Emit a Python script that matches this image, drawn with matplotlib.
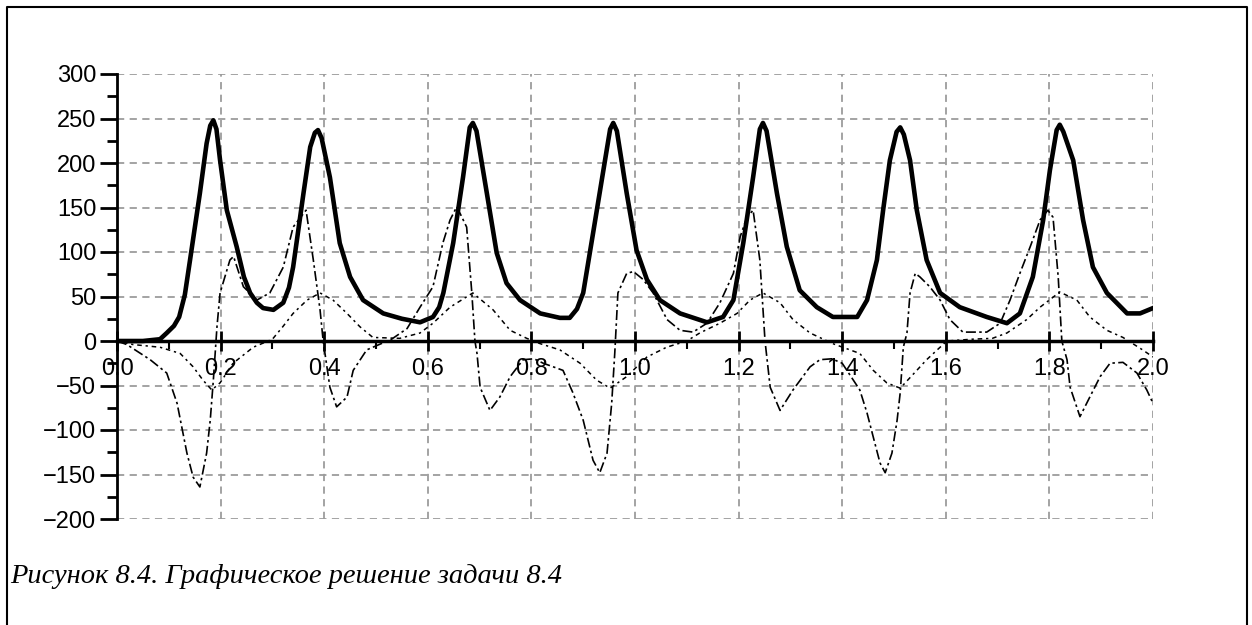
import numpy as np
import matplotlib; matplotlib.use("Agg")
import matplotlib.pyplot as plt
from matplotlib.lines import Line2D
from matplotlib.ticker import MultipleLocator, FormatStrFormatter

# thick solid curve
t_main = [0.0, 0.05, 0.083, 0.096, 0.11, 0.12, 0.131, 0.141, 0.16, 0.173, 0.18, 0.186, 0.192, 0.199,
          0.212, 0.231, 0.245, 0.257, 0.27, 0.282, 0.302, 0.321, 0.332, 0.34, 0.36, 0.373, 0.382,
          0.388, 0.395, 0.411, 0.43, 0.45, 0.475, 0.514, 0.55, 0.585, 0.61, 0.622, 0.63, 0.649,
          0.668, 0.681, 0.687, 0.694, 0.714, 0.733, 0.752, 0.778, 0.817, 0.855, 0.874, 0.888, 0.9,
          0.919, 0.939, 0.952, 0.958, 0.965, 0.984, 1.003, 1.023, 1.048, 1.087, 1.139, 1.17, 1.19,
          1.209, 1.228, 1.241, 1.247, 1.254, 1.274, 1.293, 1.318, 1.351, 1.382, 1.429, 1.448,
          1.467, 1.479, 1.492, 1.505, 1.512, 1.519, 1.531, 1.544, 1.563, 1.589, 1.627, 1.679,
          1.718, 1.743, 1.768, 1.788, 1.801, 1.814, 1.82, 1.827, 1.846, 1.865, 1.884, 1.911,
          1.95, 1.975, 2.0]
y_main = [0, 0, 2, 9, 17, 27, 52, 91, 166, 222, 242, 248, 238, 203,
          147, 106, 72, 54, 43, 37, 35, 43, 60, 83, 166, 218, 234,
          237, 228, 184, 110, 72, 46, 31, 25, 21, 27, 38, 54, 110,
          184, 240, 245, 236, 166, 99, 65, 46, 31, 26, 26, 36, 54,
          121, 192, 238, 245, 236, 166, 102, 69, 46, 31, 21, 27, 46,
          110, 184, 238, 245, 236, 166, 106, 57, 38, 27, 27, 46,
          91, 147, 203, 235, 240, 232, 203, 147, 91, 54, 38, 27,
          20, 31, 72, 136, 192, 237, 243, 235, 203, 136, 83, 54,
          31, 31, 37]

# dashed curve (large swings)
t_dash = [0.0, 0.019, 0.064, 0.096, 0.116, 0.135, 0.147, 0.16, 0.173, 0.18, 0.186, 0.193, 0.199,
          0.218, 0.225, 0.244, 0.27, 0.295, 0.321, 0.34, 0.365, 0.379, 0.392, 0.398, 0.411,
          0.424, 0.444, 0.456, 0.482, 0.514, 0.53, 0.56, 0.585, 0.61, 0.629, 0.643, 0.656,
          0.675, 0.685, 0.691, 0.695, 0.701, 0.72, 0.739, 0.759, 0.784, 0.805, 0.823, 0.861,
          0.88, 0.9, 0.919, 0.932, 0.946, 0.955, 0.961, 0.967, 0.984, 0.997, 1.016, 1.035,
          1.062, 1.087, 1.112, 1.139, 1.164, 1.19, 1.203, 1.216, 1.228, 1.241, 1.251, 1.261,
          1.28, 1.305, 1.338, 1.357, 1.38, 1.40, 1.434, 1.448, 1.46, 1.473, 1.483, 1.496,
          1.506, 1.512, 1.518, 1.525, 1.531, 1.541, 1.55, 1.569, 1.589, 1.608, 1.633, 1.679,
          1.705, 1.724, 1.743, 1.763, 1.782, 1.797, 1.807, 1.817, 1.824, 1.834, 1.84, 1.859,
          1.878, 1.898, 1.917, 1.942, 1.969, 1.988, 2.0]
y_dash = [0, -4, -21, -36, -70, -126, -153, -164, -126, -89, -44, 16, 54,
          91, 95, 61, 46, 54, 83, 128, 147, 91, 35, 0, -52,
          -74, -63, -33, -10, -2, 2, 14, 38, 61, 110, 136, 151,
          128, 54, 0, -14, -52, -78, -63, -40, -21, -20, -25, -33,
          -58, -89, -134, -148, -126, -70, -13, 54, 76, 78, 69, 54,
          24, 12, 10, 20, 43, 76, 117, 139, 147, 91, 0, -52,
          -78, -55, -29, -21, -20, -25, -55, -81, -108, -137, -148, -126,
          -89, -58, -7, 9, 54, 76, 72, 61, 46, 24, 10, 10,
          20, 46, 76, 106, 136, 147, 139, 72, 0, -21, -52, -85,
          -63, -40, -25, -24, -36, -55, -70]

# dotted curve (small swings)
t_dot = [0.0, 0.031, 0.083, 0.122, 0.147, 0.166, 0.183, 0.199, 0.224, 0.263, 0.30, 0.32, 0.34,
         0.367, 0.392, 0.417, 0.444, 0.469, 0.494, 0.546, 0.585, 0.61, 0.643, 0.687, 0.726,
         0.759, 0.791, 0.817, 0.855, 0.894, 0.926, 0.952, 0.984, 1.023, 1.061, 1.1, 1.125,
         1.164, 1.197, 1.222, 1.247, 1.28, 1.305, 1.338, 1.382, 1.434, 1.46, 1.486, 1.512,
         1.544, 1.563, 1.589, 1.602, 1.65, 1.69, 1.718, 1.756, 1.782, 1.82, 1.853, 1.878,
         1.911, 1.942, 1.961, 1.98, 2.0]
y_dot = [0, -4, -7, -14, -29, -44, -55, -47, -25, -7, 2, 16, 31,
         46, 54, 46, 31, 16, 4, 3, 9, 20, 38, 54, 35,
         12, 3, -3, -10, -25, -44, -53, -40, -18, -7, 0, 9,
         20, 31, 46, 54, 43, 24, 9, -3, -14, -33, -47, -53,
         -33, -21, -7, 0, 2, 3, 9, 24, 38, 55, 46, 27,
         12, 4, -3, -10, -18]

caption = "Рисунок 8.4. Графическое решение задачи 8.4"

plt.rcParams["font.family"] = ["Liberation Sans", "DejaVu Sans"]
fig = plt.figure(figsize=(12.52, 6.25), dpi=100)
ax = fig.add_axes([117/1252, 1-519/625, (1153-117)/1252, (519-74)/625])

ax.plot(t_dot, y_dot, color="black", lw=1.1, dashes=(1.5, 2.5, 3, 2.5))
ax.plot(t_dash, y_dash, color="black", lw=1.2, dashes=(6, 2, 1.5, 2))
ax.plot(t_main, y_main, color="black", lw=3.3)

ax.set_xlim(0, 2.0); ax.set_ylim(-200, 300)
ax.xaxis.set_major_locator(MultipleLocator(0.2)); ax.xaxis.set_minor_locator(MultipleLocator(0.1))
ax.yaxis.set_major_locator(MultipleLocator(50)); ax.yaxis.set_minor_locator(MultipleLocator(25))
ax.xaxis.set_major_formatter(FormatStrFormatter("%.1f"))
ax.set_axisbelow(True)
ax.grid(True, which="major", color="#9c9c9c", lw=1.3, dashes=(4, 3))

for s in ["top", "right"]:
    ax.spines[s].set_visible(False)
ax.spines["left"].set_linewidth(2); ax.spines["left"].set_zorder(5)
ax.spines["bottom"].set_position(("data", 0)); ax.spines["bottom"].set_linewidth(2.5)
ax.spines["bottom"].set_zorder(5)
ax.tick_params(axis="y", which="major", direction="out", length=12, width=2, labelsize=17, pad=3)
ax.tick_params(axis="y", which="minor", direction="out", length=7, width=2)
ax.tick_params(axis="x", which="major", direction="inout", length=14, width=2, labelsize=17, pad=5)
ax.tick_params(axis="x", which="minor", direction="out", length=6, width=1.5)

# page frame around the figure
fig.add_artist(Line2D([7/1252, 7/1252, 1247/1252, 1247/1252], [0, 1-7/625, 1-7/625, 0],
                      color="black", lw=1.5))
fig.text(10/1252, 1-583/625, caption, fontsize=20.5, fontstyle="italic",
         family=["Liberation Serif", "DejaVu Serif"], ha="left", va="baseline")

fig.savefig("out.png", dpi=100)
